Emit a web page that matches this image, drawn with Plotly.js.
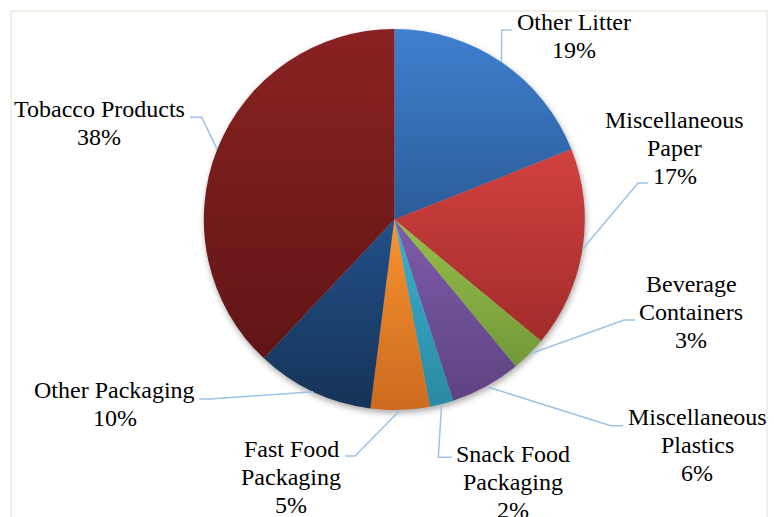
<!DOCTYPE html>
<html>
<head>
<meta charset="utf-8">
<script src="https://cdn.plot.ly/plotly-3.0.1.min.js"></script>
<style>
  html, body { margin: 0; padding: 0; background: #ffffff; }
  #chart { width: 774px; height: 517px; }
  #chart g.pielayer g.trace { filter: drop-shadow(1px 3px 3px rgba(0,0,0,0.35)); }
  #chart text.annotation-text { font-family: "Liberation Serif", "Times New Roman", serif !important; }
</style>
</head>
<body>
<div id="chart"></div>
<script>
// ---------- DATA ----------
const categories = [
  "Other Litter", "Miscellaneous Paper", "Beverage Containers", "Miscellaneous Plastics",
  "Snack Food Packaging", "Fast Food Packaging", "Other Packaging", "Tobacco Products"
];
const values = [19, 17, 3, 6, 2, 5, 10, 38];
// label text lines as printed in the chart (category wrapped)
const labelLines = [
  ["Other Litter"],
  ["Miscellaneous", "Paper"],
  ["Beverage", "Containers"],
  ["Miscellaneous", "Plastics"],
  ["Snack Food", "Packaging"],
  ["Fast Food", "Packaging"],
  ["Other Packaging"],
  ["Tobacco Products"]
];

// ---------- STYLE ----------
const colorsTop    = ["#3f80d0", "#d1413f", "#98be49", "#7f5ca9", "#3cb1ce", "#f8932f", "#22508a", "#8a2222"];
const colorsBottom = ["#2c5c98", "#a22c2b", "#72983a", "#5e4383", "#2a89a4", "#cd6a1f", "#163356", "#611515"];
const sliceMid     = ["#3670b6", "#bb3735", "#85ab42", "#6e4f96", "#339eba", "#e37f27", "#1c4170", "#761c1c"];

const W = 774, H = 517;
const PIE = { cx: 394.3, cy: 219.5, r: 190.5 };
const FONT_FAMILY = "Liberation Serif";
const FONT_SIZE = 24;
const LINE_STEP = 28;
const BASE_OFF = 8;
const LEADER_COLOR = "#9dc3e6";

// label placement (px): text centre x, first baseline y, elbow and end of the leader
const labelPos = [
  { x: 573.5, y: 30.0,  elbow: [501.7, 30.0],  end: [511.7, 30.0] },
  { x: 674.5, y: 128.3, elbow: [638.0, 183.0], end: [648.0, 183.0] },
  { x: 691.0, y: 291.7, elbow: [624.0, 320.0], end: [635.0, 320.0] },
  { x: 697.0, y: 425.0, elbow: [610.7, 425.7], end: [623.0, 425.7] },
  { x: 512.5, y: 461.7, elbow: [438.3, 457.3], end: [451.7, 457.3] },
  { x: 291.0, y: 456.7, elbow: [355.0, 456.0], end: [345.0, 456.0] },
  { x: 114.7, y: 398.3, elbow: [210.0, 399.0], end: [199.3, 399.0] },
  { x: 99.0,  y: 117.3, elbow: [201.7, 117.3], end: [190.0, 117.3] }
];

const px = v => v / W;
const py = v => 1 - v / H;

const total = values.reduce((a, b) => a + b, 0);
const annotations = [];
const shapes = [];
let cum = 0;
values.forEach((v, i) => {
  const frac = (cum + v / 2) / total;
  cum += v;
  const th = 2 * Math.PI * frac;
  const ex = PIE.cx + PIE.r * Math.sin(th);
  const ey = PIE.cy - PIE.r * Math.cos(th);
  const lp = labelPos[i];
  shapes.push({
    type: "path", xref: "paper", yref: "paper",
    path: `M ${px(ex)} ${py(ey)} L ${px(lp.elbow[0])} ${py(lp.elbow[1])} L ${px(lp.end[0])} ${py(lp.end[1])}`,
    line: { color: LEADER_COLOR, width: 1.5 }
  });
  const lines = labelLines[i].concat([Math.round(v / total * 100) + "%"]);
  lines.forEach((t, j) => {
    annotations.push({
      xref: "paper", yref: "paper",
      x: px(lp.x), y: py(lp.y + j * LINE_STEP - BASE_OFF),
      xanchor: "center", yanchor: "middle",
      text: t, showarrow: false,
      font: { family: FONT_FAMILY, size: FONT_SIZE, color: "#000000" }
    });
  });
});

// faint outer frame
shapes.unshift({
  type: "rect", xref: "paper", yref: "paper",
  x0: px(11), x1: px(767), y0: -0.05, y1: py(11),
  line: { color: "#efeadf", width: 1.5 }, fillcolor: "rgba(0,0,0,0)", layer: "below"
});

const trace = {
  type: "pie",
  labels: categories,
  values: values,
  sort: false,
  direction: "clockwise",
  rotation: 0,
  textinfo: "none",
  hoverinfo: "label+percent",
  marker: { colors: sliceMid, line: { width: 0 } },
  domain: {
    x: [px(PIE.cx - PIE.r), px(PIE.cx + PIE.r)],
    y: [py(PIE.cy + PIE.r), py(PIE.cy - PIE.r)]
  }
};

const layout = {
  width: W, height: H,
  margin: { l: 0, r: 0, t: 0, b: 0, pad: 0 },
  paper_bgcolor: "#ffffff",
  plot_bgcolor: "#ffffff",
  showlegend: false,
  font: { family: FONT_FAMILY, size: FONT_SIZE, color: "#000000" },
  annotations: annotations,
  shapes: shapes
};

const NS = "http://www.w3.org/2000/svg";
function applyGradients() {
  const gd = document.getElementById("chart");
  const svg = gd.querySelector("svg.main-svg");
  if (!svg) return;
  let defs = svg.querySelector("defs#slice-grads");
  if (!defs) {
    defs = document.createElementNS(NS, "defs");
    defs.setAttribute("id", "slice-grads");
    svg.insertBefore(defs, svg.firstChild);
  }
  while (defs.firstChild) defs.removeChild(defs.firstChild);
  categories.forEach((c, i) => {
    const g = document.createElementNS(NS, "linearGradient");
    g.setAttribute("id", "sliceGrad" + i);
    g.setAttribute("x1", "0"); g.setAttribute("y1", "0");
    g.setAttribute("x2", "0"); g.setAttribute("y2", "1");
    const s1 = document.createElementNS(NS, "stop");
    s1.setAttribute("offset", "0"); s1.setAttribute("stop-color", colorsTop[i]);
    const s2 = document.createElementNS(NS, "stop");
    s2.setAttribute("offset", "1"); s2.setAttribute("stop-color", colorsBottom[i]);
    g.appendChild(s1); g.appendChild(s2);
    defs.appendChild(g);
  });
  gd.querySelectorAll("g.pielayer g.slice").forEach((g, k) => {
    const d = g.__data__;
    const i = (d && typeof d.i === "number") ? d.i : k;
    const p = g.querySelector("path.surface");
    if (p) p.style.fill = "url(#sliceGrad" + i + ")";
  });
}

Plotly.newPlot("chart", [trace], layout, { displayModeBar: false, staticPlot: true }).then(gd => {
  applyGradients();
  gd.on("plotly_afterplot", applyGradients);
});
</script>
</body>
</html>
